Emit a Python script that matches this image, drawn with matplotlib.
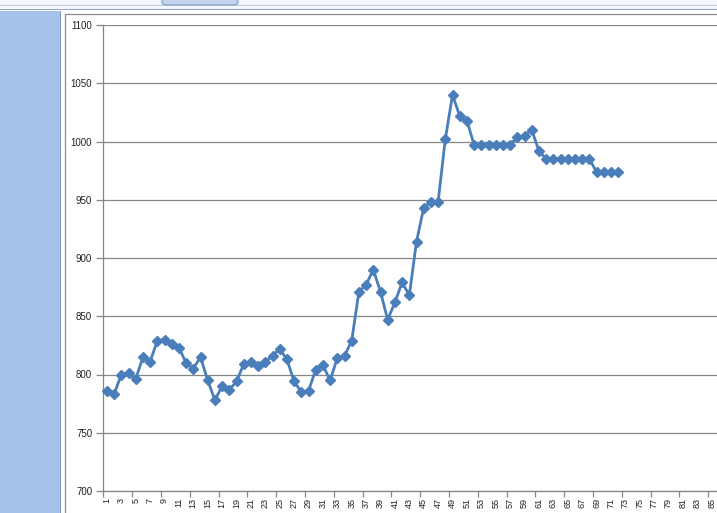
import numpy as np
import matplotlib
matplotlib.use('Agg')
import matplotlib.pyplot as plt
from matplotlib.patches import Rectangle, FancyBboxPatch

# Values (categories 1..72)
categories = list(range(1, 73))
values = [786, 783, 800, 801, 796, 815, 811, 829, 830, 826,
          823, 810, 805, 815, 795, 778, 790, 787, 794, 809,
          811, 807, 811, 816, 822, 813, 794, 785, 786, 804,
          808, 795, 814, 816, 829, 871, 877, 890, 871, 847,
          862, 879, 868, 914, 943, 948, 948, 1002, 1040, 1022,
          1018, 997, 997, 997, 997, 997, 997, 1004, 1005, 1010,
          992, 985, 985, 985, 985, 985, 985, 985, 974, 974,
          974, 974]
n_axis_cats = 85
y_ticks = [700, 750, 800, 850, 900, 950, 1000, 1050, 1100]

W, H = 717, 513
fig = plt.figure(figsize=(W / 100, H / 100), dpi=100)
fig.patch.set_facecolor('white')

def fx(px):
    return px / W

def fy(py):
    return 1 - py / H

# window chrome: top strip, tab, left blue panel, chart-area border
fig.patches.append(Rectangle((0, fy(9)), 1, 9 / H, transform=fig.transFigure,
                             facecolor='#F4F7FB', edgecolor='none', zorder=0))
fig.patches.append(Rectangle((0, fy(5.5)), 1, 0.001, transform=fig.transFigure,
                             facecolor='#B9CBE3', edgecolor='none', zorder=1))
fig.patches.append(FancyBboxPatch((fx(162), fy(5)), fx(76), 7 / H, transform=fig.transFigure,
                                  boxstyle='round,pad=0,rounding_size=0.006',
                                  facecolor='#C3D5EE', edgecolor='#7F9DC8', lw=0.8, zorder=2))
fig.patches.append(Rectangle((0, fy(10)), 1, 1.2 / H, transform=fig.transFigure,
                             facecolor='#8EA9CF', edgecolor='none', zorder=1))
fig.patches.append(Rectangle((0, 0), fx(60), fy(10.5), transform=fig.transFigure,
                             facecolor='#A5C3EA', edgecolor='none', zorder=1))
fig.patches.append(Rectangle((fx(60), 0), fx(1.2), fy(10.5), transform=fig.transFigure,
                             facecolor='#7F9CC6', edgecolor='none', zorder=1))
fig.patches.append(Rectangle((fx(65), -0.1), 1, fy(14) + 0.1, transform=fig.transFigure,
                             facecolor='white', edgecolor='#8C8C8C', lw=0.9, zorder=1))

# plot area
left, right, top, bottom = 103.3, 717, 25, 491
ax = fig.add_axes([fx(left), fy(bottom), fx(right - left), (bottom - top) / H])
ax.set_zorder(3)
ax.patch.set_alpha(0)

x = np.array(categories)
ax.plot(x, values, color='#4A7EBB', lw=2.0, marker='D', markersize=4.6,
        markerfacecolor='#4A7EBB', markeredgecolor='#4A7EBB', zorder=4, clip_on=False)

px_per_cat = 7.2
ax.set_xlim(0.5, 0.5 + (right - left) / px_per_cat)
ax.set_ylim(700, 1100)

ax.set_yticks(y_ticks)
ax.set_yticklabels([str(v) for v in y_ticks])
ax.yaxis.grid(True, color='#868686', lw=0.9)
ax.set_axisbelow(True)

ax.set_xticks(range(1, n_axis_cats + 1, 2))
ax.set_xticklabels([str(c) for c in range(1, n_axis_cats + 1, 2)], rotation=90)
ax.set_xticks(np.arange(0.5, n_axis_cats + 1, 4), minor=True)

for s in ['top', 'right']:
    ax.spines[s].set_visible(False)
for s in ['left', 'bottom']:
    ax.spines[s].set_color('#868686')
    ax.spines[s].set_linewidth(0.9)

ax.tick_params(axis='x', which='major', length=0, pad=5, labelsize=6.5,
               labelcolor='#222222', labelfontfamily='Liberation Sans')
ax.tick_params(axis='x', which='minor', length=4, color='#868686', width=0.9)
ax.tick_params(axis='y', length=5, color='#868686', width=0.9, pad=3,
               labelsize=7, labelcolor='#222222', labelfontfamily='Liberation Sans')

fig.savefig('out.png', dpi=100)
